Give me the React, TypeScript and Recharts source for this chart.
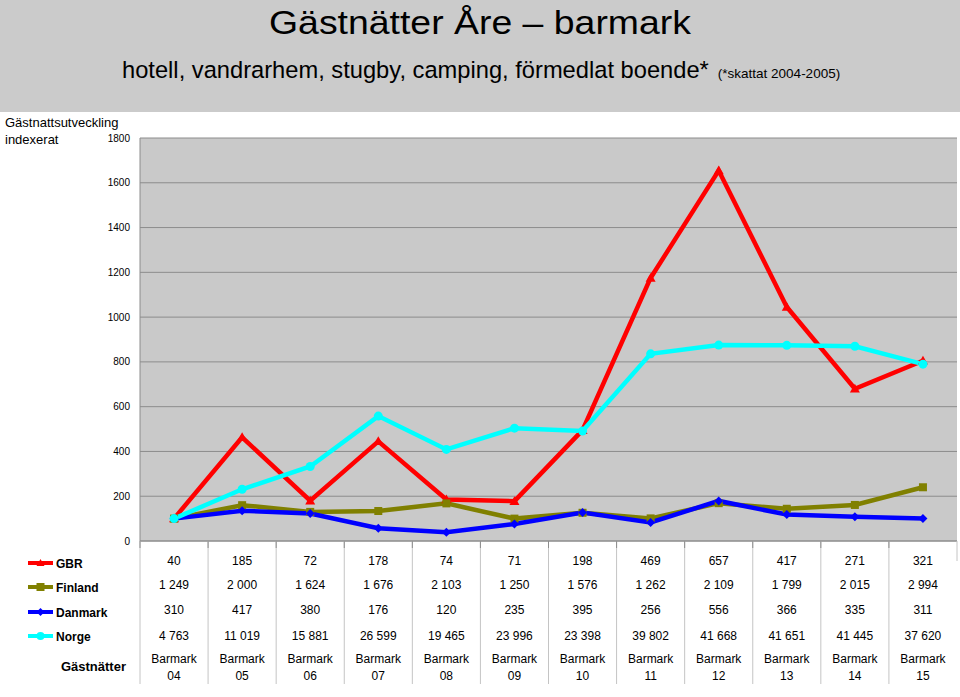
import { LineChart, Line, XAxis, YAxis, CartesianGrid } from "recharts"

const FONT = "'Liberation Sans', Arial, sans-serif"

// Categories (season + year)
const CATEGORIES = [
  "Barmark 04", "Barmark 05", "Barmark 06", "Barmark 07", "Barmark 08", "Barmark 09",
  "Barmark 10", "Barmark 11", "Barmark 12", "Barmark 13", "Barmark 14", "Barmark 15",
]

// Guest nights (table rows)
const GBR_NIGHTS = [40, 185, 72, 178, 74, 71, 198, 469, 657, 417, 271, 321]
const FINLAND_NIGHTS = [1249, 2000, 1624, 1676, 2103, 1250, 1576, 1262, 2109, 1799, 2015, 2994]
const DANMARK_NIGHTS = [310, 417, 380, 176, 120, 235, 395, 256, 556, 366, 335, 311]
const NORGE_NIGHTS = [4763, 11019, 15881, 26599, 19465, 23996, 23398, 39802, 41668, 41651, 41445, 37620]

// Indexed development (2004 = 100)
const GBR_INDEX = [100, 463, 180, 445, 185, 178, 495, 1175, 1655, 1045, 680, 805]
const FINLAND_INDEX = [100, 160, 130, 134, 168, 100, 126, 101, 169, 144, 161, 240]
const DANMARK_INDEX = [100, 135, 123, 57, 39, 76, 127, 83, 179, 118, 108, 100]
const NORGE_INDEX = [100, 231, 333, 558, 409, 504, 491, 836, 875, 874, 870, 790]

const Y_TICKS = [0, 200, 400, 600, 800, 1000, 1200, 1400, 1600, 1800]

const SERIES = [
  { key: "gbr", name: "GBR", color: "#ff0000", shape: "triangle", nights: GBR_NIGHTS, index: GBR_INDEX },
  { key: "finland", name: "Finland", color: "#808000", shape: "square", nights: FINLAND_NIGHTS, index: FINLAND_INDEX },
  { key: "danmark", name: "Danmark", color: "#0000ff", shape: "diamond", nights: DANMARK_NIGHTS, index: DANMARK_INDEX },
  { key: "norge", name: "Norge", color: "#00ffff", shape: "circle", nights: NORGE_NIGHTS, index: NORGE_INDEX },
]

const data = CATEGORIES.map((name, i) => {
  const row: any = { name }
  SERIES.forEach((s) => (row[s.key] = s.index[i]))
  return row
})

const CHART_W = 960
const CHART_H = 697
const PLOT_LEFT = 140
const PLOT_TOP = 138
const PLOT_RIGHT = 957
const PLOT_BOTTOM = 541
const COL_W = (PLOT_RIGHT - PLOT_LEFT) / CATEGORIES.length
const Y_AXIS_W = 40
const X_AXIS_H = 150

const VALUE_ROWS = [23.5, 47.5, 72.5, 98.5]
const LEGEND_ROWS = [26.5, 50.5, 75.5, 99.5]

const fmt = (v: number) => String(v).replace(/\B(?=(\d{3})+(?!\d))/g, " ")

function Marker({ shape, color, cx, cy, size }: any) {
  if (shape === "triangle") {
    return <polygon points={`${cx},${cy - size} ${cx + size},${cy + size * 0.75} ${cx - size},${cy + size * 0.75}`} fill={color} />
  }
  if (shape === "square") {
    return <rect x={cx - size} y={cy - size} width={size * 2} height={size * 2} fill={color} />
  }
  if (shape === "diamond") {
    return <polygon points={`${cx},${cy - size} ${cx + size},${cy} ${cx},${cy + size} ${cx - size},${cy}`} fill={color} />
  }
  return <circle cx={cx} cy={cy} r={size} fill={color} />
}

const makeDot = (shape: string, color: string) => (props: any) => {
  const { cx, cy, index } = props
  if (cx == null || cy == null) return <g key={`dot-${index}`} />
  const size = shape === "square" ? 4 : shape === "triangle" ? 5 : 4.5
  return (
    <g key={`dot-${index}`}>
      <Marker shape={shape} color={color} cx={cx} cy={cy} size={size} />
    </g>
  )
}

function TableTick(props: any) {
  const { x, y, payload } = props
  const i = payload.index
  const left = x - COL_W / 2
  const right = x + COL_W / 2
  const [word, yr] = String(payload.value).split(" ")
  return (
    <g fontFamily={FONT}>
      <line x1={left} x2={left} y1={y} y2={y + 143} stroke="#c4c4c4" />
      <line x1={left} x2={left} y1={y} y2={y + 7} stroke="#8c8c8c" />
      {i === CATEGORIES.length - 1 && <line x1={right} x2={right} y1={y} y2={y + 20} stroke="#c4c4c4" />}
      {SERIES.map((s, r) => (
        <text key={s.key} x={x} y={y + VALUE_ROWS[r]} textAnchor="middle" fontSize={12} fill="#000">
          {fmt(s.nights[i])}
        </text>
      ))}
      <text x={x} y={y + 121.5} textAnchor="middle" fontSize={12} fill="#000">{word}</text>
      <text x={x} y={y + 138.5} textAnchor="middle" fontSize={12} fill="#000">{yr}</text>
      {i === 0 && (
        <g>
          {SERIES.map((s, r) => {
            const ly = y + LEGEND_ROWS[r] - 4.5
            return (
              <g key={s.key}>
                <line x1={PLOT_LEFT - 112} x2={PLOT_LEFT - 87} y1={ly} y2={ly} stroke={s.color} strokeWidth={4} />
                <Marker shape={s.shape} color={s.color} cx={PLOT_LEFT - 99.5} cy={ly} size={4} />
                <text x={PLOT_LEFT - 84} y={y + LEGEND_ROWS[r]} fontSize={12} fontWeight="bold" fill="#000">
                  {s.name}
                </text>
              </g>
            )
          })}
          <text x={PLOT_LEFT - 14} y={y + 129.5} textAnchor="end" fontSize={13} fontWeight="bold" fill="#000">
            Gästnätter
          </text>
        </g>
      )}
    </g>
  )
}

export default function App() {
  return (
    <div style={{ position: "absolute", left: 0, top: 0, width: CHART_W, height: CHART_H, background: "#fff", fontFamily: FONT, overflow: "hidden" }}>
      <div style={{ position: "absolute", left: 0, top: 0, width: CHART_W, height: 112, background: "#cbcbcb" }} />
      <div
        style={{
          position: "absolute", left: 0, top: 2, width: CHART_W, textAlign: "center", fontSize: 34, lineHeight: "40px",
          color: "#000", transform: "scaleX(1.1)", transformOrigin: "480px 0",
        }}
      >
        Gästnätter Åre – barmark
      </div>
      <div style={{ position: "absolute", left: 122, top: 56, whiteSpace: "nowrap", fontSize: 23.7, lineHeight: "28px", color: "#000" }}>
        hotell, vandrarhem, stugby, camping, förmedlat boende*
        <span style={{ fontSize: 13.5, marginLeft: 9 }}>(*skattat 2004-2005)</span>
      </div>
      <div style={{ position: "absolute", left: 5, top: 114, fontSize: 13, lineHeight: "17px", color: "#000" }}>
        Gästnattsutveckling
        <br />
        indexerat
      </div>
      <div style={{ position: "absolute", left: 0, top: 0 }}>
        <LineChart
          width={CHART_W}
          height={CHART_H}
          data={data}
          margin={{ top: PLOT_TOP, right: CHART_W - PLOT_RIGHT, left: PLOT_LEFT - Y_AXIS_W, bottom: CHART_H - PLOT_BOTTOM - X_AXIS_H }}
        >
          <CartesianGrid vertical={false} stroke="#8c8c8c" fill="#c9c9c9" fillOpacity={1} />
          <XAxis
            dataKey="name"
            interval={0}
            height={X_AXIS_H}
            padding={{ left: COL_W / 2, right: COL_W / 2 }}
            axisLine={{ stroke: "#8c8c8c" }}
            tickLine={false}
            tickSize={0}
            tickMargin={0}
            tick={<TableTick />}
          />
          <YAxis
            width={Y_AXIS_W}
            domain={[0, 1800]}
            ticks={Y_TICKS}
            interval={0}
            axisLine={{ stroke: "#8c8c8c" }}
            tickLine={false}
            tickMargin={4}
            tick={{ fontSize: 10, fill: "#000", fontFamily: FONT }}
          />
          {SERIES.map((s) => (
            <Line
              key={s.key}
              type="linear"
              dataKey={s.key}
              name={s.name}
              stroke={s.color}
              strokeWidth={4.5}
              dot={makeDot(s.shape, s.color)}
              activeDot={false}
              isAnimationActive={false}
            />
          ))}
        </LineChart>
      </div>
    </div>
  )
}
